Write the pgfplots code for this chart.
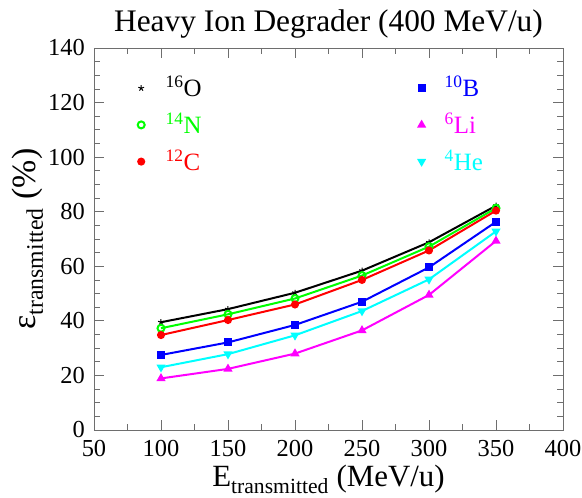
\documentclass[border=0pt]{standalone}
\usepackage{fontspec}
\setmainfont{Liberation Serif}
\usepackage{pgfplots}
\pgfplotsset{compat=1.18}
\definecolor{cgreen}{RGB}{0,255,0}
\definecolor{cred}{RGB}{255,0,0}
\definecolor{cblue}{RGB}{0,0,255}
\definecolor{cmag}{RGB}{255,0,255}
\definecolor{ccyan}{RGB}{0,255,255}
\definecolor{frame}{RGB}{110,110,110}
\begin{document}
\begin{tikzpicture}
\begin{axis}[
  name=ax,
  scale only axis,
  width=469bp, height=382bp,
  xmin=50, xmax=400, ymin=0, ymax=140,
  xtick={50,100,...,400}, ytick={0,20,...,140},
  minor x tick num=1, minor y tick num=3,
  tick align=inside,
  major tick length=10bp, minor tick length=6bp,
  axis line style={frame, line width=0.8bp},
  every tick/.style={frame, line width=0.8bp},
  /pgf/number format/assume math mode=true,
  tick label style={font=\fontsize{24.5}{26}\selectfont, inner sep=0pt},
  xticklabel style={anchor=base, yshift=-26.7bp},
  yticklabel style={anchor=east, xshift=-9bp},
  title={Heavy Ion Degrader (400 MeV/u)},
  title style={font=\fontsize{31.5}{33}\selectfont, at={(0.5,1.0288)}, anchor=base, inner sep=0pt},
  xlabel={E\textsubscript{transmitted} (MeV/u)},
  ylabel={ε\textsubscript{transmitted} (\%)},
  label style={font=\fontsize{31}{33}\selectfont, inner sep=0pt},
  xlabel style={at={(0.5,-0.1492)}, anchor=base},
  ylabel style={font=\fontsize{34}{36}\selectfont, at={(-0.1258,0.5)}, anchor=base, rotate=0},
  legend columns=2,
  legend style={at={(0.0932,0.917)}, anchor=north west, draw=none, fill=none,
    font=\fontsize{25}{27}\selectfont, row sep=19.7bp, inner sep=0pt, outer sep=0pt,
    nodes={inner sep=0pt, outer sep=0pt, text height=17bp, text depth=0bp},
    /tikz/column 1/.style={column sep=21bp},
    /tikz/column 2/.style={column sep=217bp},
    /tikz/column 3/.style={column sep=20bp}},
  legend cell align=left,
  legend image code/.code={\draw[#1, mark repeat=1] plot coordinates {(0cm,0cm)};},
  every axis plot/.append style={line width=2bp},
]
\addplot[black, mark=star, mark size=3bp, mark options={line width=1bp}] coordinates {(100,39.5) (150,44.3) (200,50.3) (250,58.4) (300,68.8) (350,82.2)};
\addlegendentry{\textcolor{black}{\textsuperscript{16}O}}
\addplot[cblue, mark=square*, mark size=3bp] coordinates {(100,27.5) (150,32.1) (200,38.5) (250,47.0) (300,59.6) (350,76.3)};
\addlegendentry{\textcolor{cblue}{\textsuperscript{10}B}}
\addplot[cgreen, mark=o, mark size=3.5bp] coordinates {(100,37.3) (150,42.4) (200,48.2) (250,56.6) (300,67.2) (350,81.3)};
\addlegendentry{\textcolor{cgreen}{\textsuperscript{14}N}}
\addplot[cmag, mark=triangle*, mark size=3.3bp] coordinates {(100,18.9) (150,22.4) (200,28.0) (250,36.5) (300,49.5) (350,69.3)};
\addlegendentry{\textcolor{cmag}{\textsuperscript{6}Li}}
\addplot[cred, mark=*, mark size=3bp] coordinates {(100,34.8) (150,40.3) (200,46.0) (250,55.0) (300,65.8) (350,80.4)};
\addlegendentry{\textcolor{cred}{\textsuperscript{12}C}}
\addplot[ccyan, mark=triangle*, mark size=3.3bp, mark options={rotate=180}] coordinates {(100,23.0) (150,27.8) (200,34.7) (250,43.6) (300,55.2) (350,72.8)};
\addlegendentry{\textcolor{ccyan}{\textsuperscript{4}He}}
\end{axis}
\pgfresetboundingbox
\path (ax.south west) ++(-94bp,-68bp) rectangle ++(582bp,498bp);
\end{tikzpicture}
\end{document}
